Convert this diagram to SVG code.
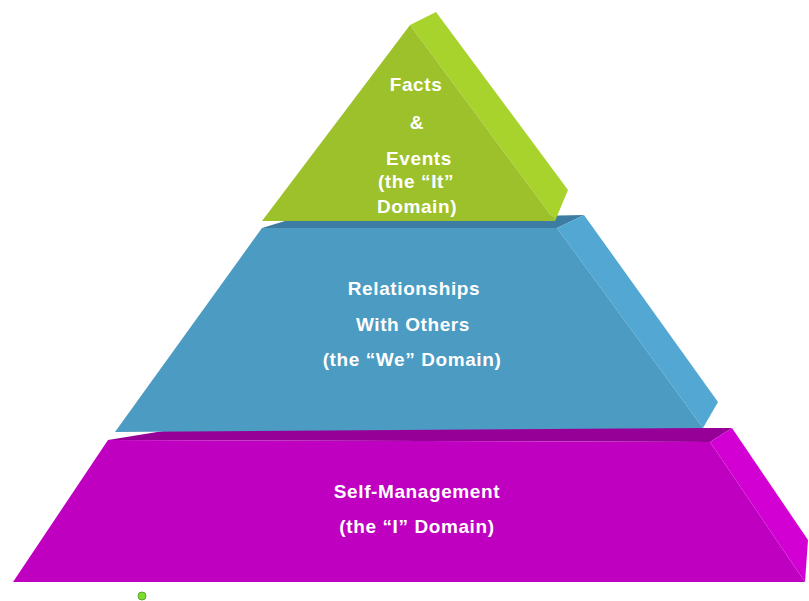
<svg xmlns="http://www.w3.org/2000/svg" width="809" height="601" viewBox="0 0 809 601">
  <style>
    .label { font-family: "Liberation Sans", Arial, sans-serif; font-weight: bold; font-size: 19px; fill: #ffffff; text-anchor: middle; letter-spacing: 0.6px; }
  </style>
  <rect width="809" height="601" fill="#ffffff"/>

  <!-- bottom tier: Self-Management -->
  <g id="tier-self">
    <polygon points="108,440 182,428 732,428 710,442" fill="#970097"/>
    <polygon points="710,442 732,428 808,540 805,582" fill="#d200d2"/>
    <polygon points="108,440 710,442 805,582 13,582" fill="#c000c0"/>
    <text class="label" x="417" y="498">Self-Management</text>
    <text class="label" x="417" y="533">(the “I” Domain)</text>
  </g>

  <!-- middle tier: Relationships -->
  <g id="tier-we">
    <polygon points="262,228 285,221 584,215 557,228" fill="#3e7da3"/>
    <polygon points="557,228 584,215 718,402 703,428" fill="#52a8d3"/>
    <polygon points="262,228 557,228 703,428 115,432" fill="#4b9bc2"/>
    <text class="label" x="414" y="295">Relationships</text>
    <text class="label" x="413" y="331">With Others</text>
    <text class="label" x="412" y="366">(the “We” Domain)</text>
  </g>

  <!-- top tier: Facts & Events -->
  <g id="tier-it">
    <polygon points="410,25 436,12 568,190 555,221" fill="#a8d22c"/>
    <polygon points="410,25 555,221 262,221" fill="#9dc12a"/>
    <text class="label" x="416" y="91">Facts</text>
    <text class="label" x="417" y="129">&amp;</text>
    <text class="label" x="419" y="165">Events</text>
    <text class="label" x="416" y="188">(the “It”</text>
    <text class="label" x="417" y="213">Domain)</text>
  </g>

  <!-- small marker dot below the base -->
  <circle cx="142" cy="596" r="4" fill="#7ddc2e" stroke="#5aa82a" stroke-width="1"/>
</svg>
